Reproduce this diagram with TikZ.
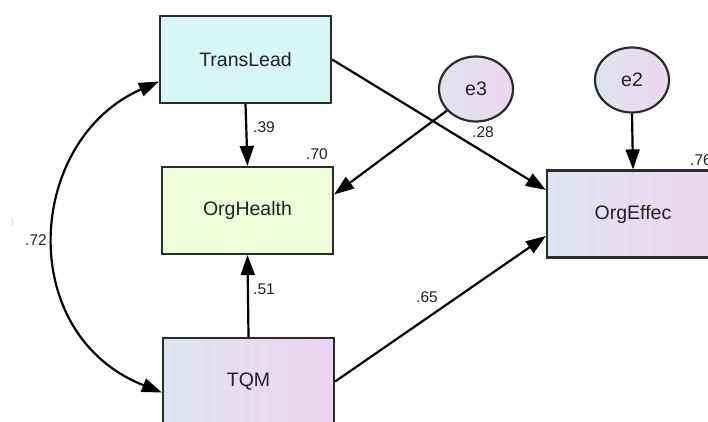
\documentclass[tikz,border=0pt]{standalone}
\usepackage{fontspec}
\setmainfont{Liberation Sans}
\usetikzlibrary{arrows.meta,calc,shapes.geometric}
\definecolor{edgegray}{HTML}{2B2B2B}
\definecolor{txtgray}{HTML}{222222}
\definecolor{cyanfill}{HTML}{D8F6F3}
\definecolor{limefill}{HTML}{EFFCD9}
\definecolor{bluegray}{HTML}{DFE4EE}
\definecolor{lavender}{HTML}{ECD6F1}
\tikzset{
  var/.style={draw=edgegray, line width=2.2pt, minimum width=171pt, minimum height=87pt,
    inner sep=0pt, text=txtgray, font=\fontsize{19.5}{21}\selectfont},
  errvar/.style={draw=edgegray, line width=2.2pt, ellipse, minimum width=74pt, minimum height=65pt,
    inner sep=0pt, left color=bluegray, right color=lavender, text=txtgray,
    font=\fontsize{19.5}{21}\selectfont},
  tip/.style={Triangle[length=20pt,width=14pt]},
  path/.style={draw=black, line width=2.2pt, -{Triangle[length=20pt,width=14pt]}},
  coef/.style={text=txtgray, font=\fontsize{15.5}{17}\selectfont, inner sep=0pt}
}
\begin{document}
\begin{tikzpicture}[x=1pt,y=-1pt]
  \useasboundingbox (0,0) rectangle (708,421);
  \clip (0,0) rectangle (708,421);
  \fill[white] (0,0) rectangle (708,421);

  % observed variables
  \node[var, fill=cyanfill] (TL) at (245.5,59.5) {TransLead};
  \node[var, fill=limefill] (OH) at (247.5,210.5) {OrgHealth};
  \node[var, left color=bluegray, right color=lavender] (TQM) at (248.5,381.5) {TQM};
  \node[var, left color=bluegray, right color=lavender, minimum width=172pt] (OE) at (633,214) {OrgEffec};

  % error terms
  \node[errvar] (e3) at (476,89) {e3};
  \node[errvar] (e2) at (632,80) {e2};

  % regression paths
  \draw[path] (TL.south) -- (OH.north);
  \draw[path] (TQM.north) -- (OH.south);
  \draw[path] (TL.east) -- ([yshift=24pt]OE.west);
  \draw[path] (TQM.east) -- ([yshift=-22pt]OE.west);
  \draw[path] (e3) -- ([yshift=16pt]OH.east);
  \draw[path] (e2.south) -- (OE.north);

  % covariance between exogenous variables
  \coordinate (cA) at ([yshift=-22pt]TL.west);
  \coordinate (cB) at ([yshift=-11pt]TQM.west);
  \draw[line width=2.2pt, {Triangle[length=20pt,width=14pt]}-{Triangle[length=20pt,width=14pt]}]
    (cA) .. controls (26,140) and (14,334) .. (cB);

  % coefficients
  \node[coef, anchor=west] (l39) at (253,127) {.39};
  \node[coef, anchor=west] (l70) at (306,154) {.70};
  \node[coef, anchor=west] (l28) at (472,132) {.28};
  \node[coef, anchor=west] (l72) at (25,240) {.72};
  \node[coef, anchor=west] (l51) at (253,289) {.51};
  \node[coef, anchor=west] (l65) at (416,297) {.65};
  \node[coef, anchor=west] (l76) at (690,160) {.76};
  \node[text=gray!40, font=\fontsize{9}{9}\selectfont, inner sep=0pt] (mark) at (12,222) {)};
\end{tikzpicture}
\end{document}
